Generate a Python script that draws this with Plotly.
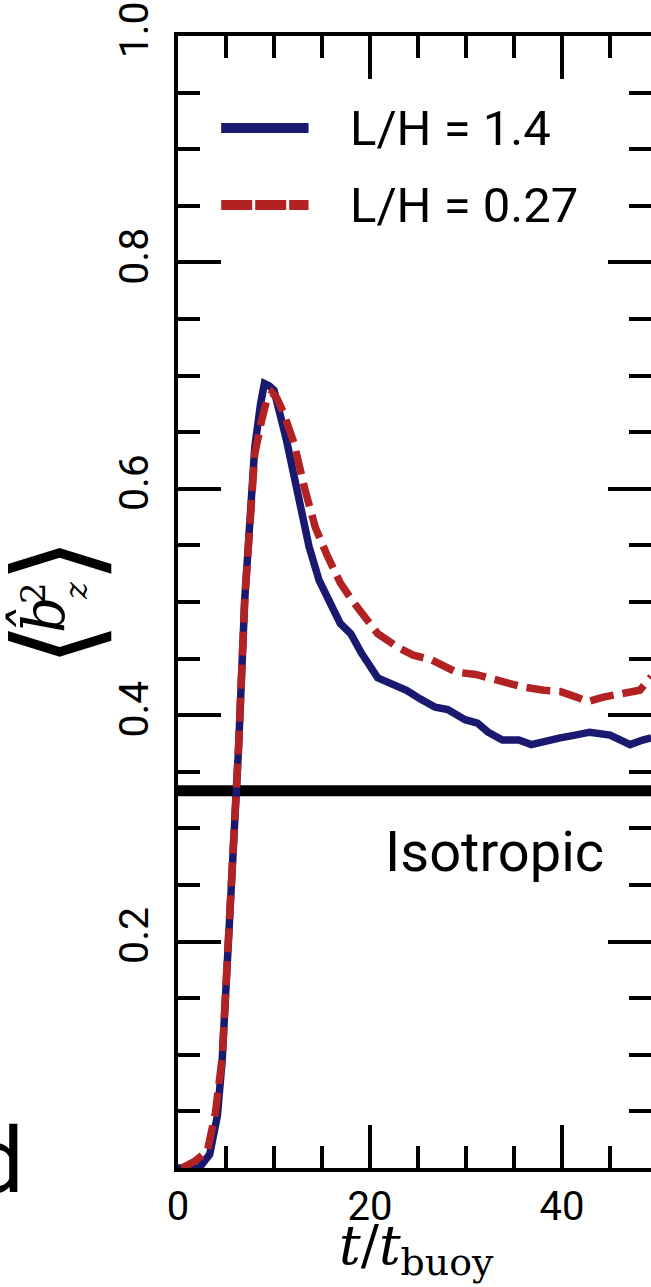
import plotly.graph_objects as go

# ---- data ----
t_blue = [0.0, 2.2, 3.3, 4.1, 4.6, 5.0, 5.45, 5.75, 6.0, 6.3, 6.95, 7.6, 8.0, 8.6, 9.0, 9.5,
          10.0, 11.3, 12.6, 13.65, 14.7, 16.0, 16.9, 18.0, 19.1, 20.8, 22.1, 23.8, 25.3,
          26.8, 28.1, 29.9, 31.2, 32.3, 33.8, 35.5, 36.8, 37.6, 39.8, 41.1, 42.9, 45.0,
          47.1, 48.4, 49.3]
b_blue = [0.0, 0.0, 0.012, 0.046, 0.095, 0.156, 0.232, 0.293, 0.333, 0.369, 0.502, 0.575,
          0.637, 0.675, 0.693, 0.691, 0.687, 0.643, 0.590, 0.549, 0.519, 0.496, 0.481,
          0.472, 0.455, 0.433, 0.428, 0.422, 0.414, 0.407, 0.405, 0.396, 0.393, 0.385,
          0.378, 0.378, 0.374, 0.376, 0.380, 0.382, 0.385, 0.3825, 0.374, 0.378, 0.380]

t_red = [0.4, 1.75, 3.06, 3.9, 4.6, 5.0, 5.45, 5.75, 6.0, 6.3, 6.95, 7.4, 8.0, 8.7, 9.2,
         9.8, 10.3, 11.0, 12.1, 13.2, 14.3, 15.6, 16.9, 18.0, 19.1, 20.8, 22.9, 24.5,
         26.4, 27.5, 29.0, 31.0, 33.3, 35.9, 38.1, 39.8, 41.5, 42.7, 44.3, 46.7, 48.1,
         49.3]
b_red = [0.0, 0.006, 0.015, 0.049, 0.097, 0.158, 0.234, 0.295, 0.335, 0.371, 0.502, 0.561,
         0.631, 0.660, 0.677, 0.685, 0.680, 0.667, 0.640, 0.600, 0.566, 0.540, 0.517,
         0.503, 0.490, 0.472, 0.460, 0.453, 0.449, 0.445, 0.438, 0.436, 0.431, 0.425,
         0.422, 0.421, 0.416, 0.412, 0.416, 0.419, 0.422, 0.434]

series_names = ["L/H = 1.4", "L/H = 0.27"]
ISO_VALUE = 1.0 / 3.0
x_tickvals = [0, 20, 40]
x_ticktext = ["0", "20", "40"]
y_tickvals = [0.2, 0.4, 0.6, 0.8, 1.0]
y_ticktext = ["0.2", "0.4", "0.6", "0.8", "1.0"]

BLUE = "#191970"
RED = "#B22222"
SANS = "Roboto, 'Liberation Sans', sans-serif"
SERIF = "'DejaVu Serif', 'Liberation Serif', serif"

fig = go.Figure()
fig.add_trace(go.Scatter(x=t_blue, y=b_blue, mode="lines", name=series_names[0],
                         line=dict(color=BLUE, width=7.5), showlegend=False))
fig.add_trace(go.Scatter(x=t_red, y=b_red, mode="lines", name=series_names[1],
                         line=dict(color=RED, width=7.5, dash="24px,9px"), showlegend=False))
# invisible trace to host the right-hand tick axis
fig.add_trace(go.Scatter(x=[None], y=[None], yaxis="y2", showlegend=False, hoverinfo="skip"))

fig.add_hline(y=ISO_VALUE, line=dict(color="black", width=11), layer="below")

# manual legend
leg_y = [0.9187, 0.8507]
fig.add_shape(type="line", xref="x", yref="y", x0=4.5, x1=13.6, y0=leg_y[0], y1=leg_y[0],
              line=dict(color=BLUE, width=10))
fig.add_shape(type="line", xref="x", yref="y", x0=4.5, x1=13.6, y0=leg_y[1], y1=leg_y[1],
              line=dict(color=RED, width=10, dash="31px,3px"))
for name, yy in zip(series_names, leg_y):
    fig.add_annotation(x=17.7, y=yy, xref="x", yref="y", text=name, showarrow=False,
                       xanchor="left", yanchor="middle",
                       font=dict(family=SANS, size=49, color="black"))

fig.add_annotation(x=44.6, y=0.279, xref="x", yref="y", text="Isotropic", showarrow=False,
                   xanchor="right", yanchor="middle",
                   font=dict(family=SANS, size=56, color="black"))

# x-axis title
fig.add_annotation(x=24.8, y=-0.0715, xref="x", yref="paper",
                   text="<i>t</i>/<i>t</i><sub>buoy</sub>", showarrow=False,
                   xanchor="center", yanchor="middle",
                   font=dict(family=SERIF, size=54, color="black"))

# y-axis title, built from pieces so that sup/sub stack as in the reference
ytitle_parts = [
    ("⟨", -0.2600, 0.4620, 116, False),
    ("⟩", -0.2600, 0.5362, 116, False),
    ("b̂", -0.2895, 0.4885, 57, True),
    ("2", -0.3064, 0.5080, 34, False),
    ("z", -0.2155, 0.5097, 32, True),
]
for txt, px, py, sz, ital in ytitle_parts:
    fig.add_annotation(x=px, y=py, xref="paper", yref="paper", textangle=-90,
                       text=f"<i>{txt}</i>" if ital else txt, showarrow=False,
                       xanchor="center", yanchor="middle",
                       font=dict(family=SERIF, size=sz, color="black"))

# clipped panel letter
fig.add_annotation(x=-0.322, y=-0.042, xref="paper", yref="paper", text="d", showarrow=False,
                   xanchor="right", yanchor="bottom",
                   font=dict(family=SANS, size=90, color="black"))

fig.update_layout(
    width=651, height=1287,
    margin=dict(l=178, r=0, t=36, b=119),
    paper_bgcolor="white", plot_bgcolor="white",
    xaxis=dict(range=[0, 49.27], tickvals=x_tickvals, ticktext=x_ticktext,
               ticks="inside", ticklen=43, tickwidth=4, tickcolor="black",
               showline=True, linewidth=4, linecolor="black", mirror="ticks",
               showgrid=False, zeroline=False, ticklabelstandoff=0,
               tickfont=dict(family=SANS, size=40, color="black"),
               minor=dict(ticks="inside", ticklen=22, tickwidth=4, tickcolor="black",
                          dtick=5, tick0=0, showgrid=False)),
    yaxis=dict(range=[0, 1], tickvals=y_tickvals, ticktext=y_ticktext,
               ticks="inside", ticklen=43, tickwidth=4, tickcolor="black",
               showline=True, linewidth=4, linecolor="black", mirror=False,
               showgrid=False, zeroline=False, tickangle=-90, ticklabelstandoff=10,
               tickfont=dict(family=SANS, size=41, color="black"),
               minor=dict(ticks="inside", ticklen=22, tickwidth=4, tickcolor="black",
                          dtick=0.05, tick0=0, showgrid=False)),
    yaxis2=dict(range=[0, 1], overlaying="y", side="right", anchor="x",
                tickvals=y_tickvals, ticks="inside", ticklen=43, tickwidth=4,
                tickcolor="black", showticklabels=False, showline=False,
                showgrid=False, zeroline=False,
                minor=dict(ticks="inside", ticklen=22, tickwidth=4, tickcolor="black",
                           dtick=0.05, tick0=0, showgrid=False)),
    showlegend=False,
)

fig.write_html("out.html")
